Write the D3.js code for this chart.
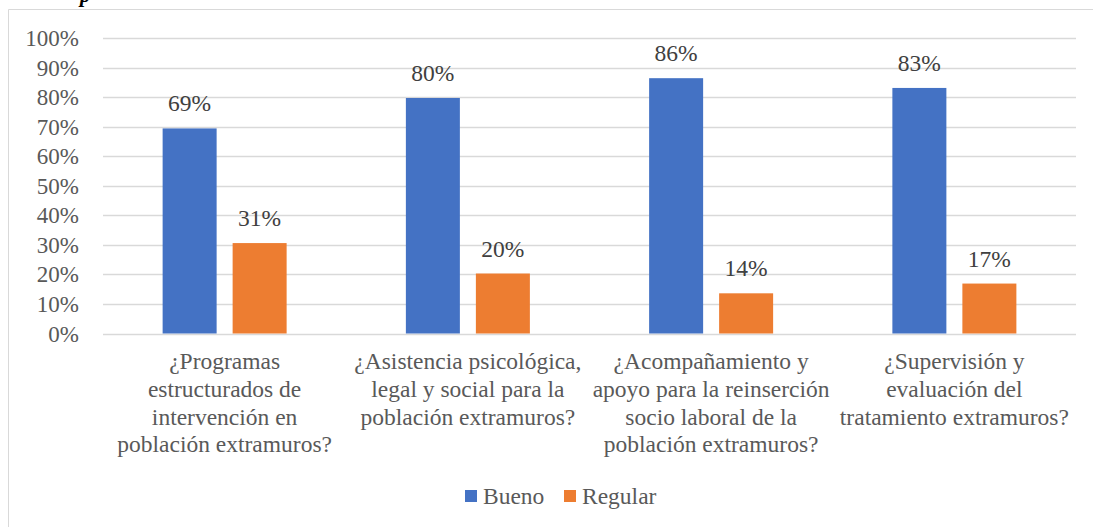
<!DOCTYPE html>
<html><head><meta charset="utf-8">
<script src="https://cdn.jsdelivr.net/npm/d3@7"></script>
<style>body{margin:0;background:#fff;}</style>
</head><body><svg id="c" width="1093" height="527"></svg>
<script>
const categories = [
  ["¿Programas","estructurados de","intervención en","población extramuros?"],
  ["¿Asistencia psicológica,","legal y social para la","población extramuros?"],
  ["¿Acompañamiento y","apoyo para la reinserción","socio laboral de la","población extramuros?"],
  ["¿Supervisión y","evaluación del","tratamiento extramuros?"]
];
const seriesNames = ["Bueno","Regular"];
const bueno = [69.4, 79.7, 86.4, 83.1];
const regular = [30.6, 20.3, 13.6, 16.9];
const yTicks = [0,10,20,30,40,50,60,70,80,90,100];
const colors = ["#4472C4","#ED7D31"];

const FONT = "Liberation Serif";
const FS = 23.5;
const svg = d3.select("#c");
const txt = "#595959";
svg.append("path").attr("d","M8.5,527 V9.5 H1093").attr("fill","none").attr("stroke","#d9d9d9").attr("stroke-width",1);
svg.append("text").attr("x",80).attr("y",2).attr("font-size",21).attr("font-family",FONT).attr("font-style","italic").attr("font-weight","bold").attr("fill","#000").text("p");

const x0 = d3.scaleBand().domain(d3.range(categories.length)).range([103,1076]);
const y = d3.scaleLinear().domain([0,100]).range([333.5,38]);

svg.append("g").selectAll("line").data(yTicks).join("line")
  .attr("x1",103).attr("x2",1076).attr("y1",d=>Math.round(y(d))+0.5).attr("y2",d=>Math.round(y(d))+0.5)
  .attr("stroke","#d9d9d9").attr("stroke-width",1.3);
const yAxis = d3.axisLeft(y).tickValues(yTicks).tickFormat(d=>d+"%").tickSize(0).tickPadding(0);
const ga = svg.append("g").attr("transform","translate(79,0)").call(yAxis);
ga.select(".domain").remove();
ga.attr("font-family",FONT).attr("font-size",23);
ga.selectAll("text").attr("fill",txt).attr("dy","0.33em");

const data = categories.map((c,i)=>[bueno[i],regular[i]]);
const bw = 54;
data.forEach((vals,i)=>{
  const cx = x0(i)+x0.bandwidth()/2;
  vals.forEach((v,j)=>{
    const bx = j===0 ? cx-8-bw : cx+8;
    svg.append("rect").attr("x",bx).attr("y",y(v)).attr("width",bw).attr("height",y(0)-y(v)).attr("fill",colors[j]);
    svg.append("text").attr("x",bx+bw/2).attr("y",y(v)-17).attr("text-anchor","middle")
      .attr("font-size",FS).attr("font-family",FONT).attr("fill","#404040").text(Math.round(v)+"%");
  });
  categories[i].forEach((line,k)=>{
    svg.append("text").attr("text-anchor","middle").attr("font-size",FS).attr("font-family",FONT).attr("fill",txt)
      .attr("x",cx).attr("y",369+k*27.8).text(line);
  });
});

const leg = [{x:465,n:0},{x:564,n:1}];
leg.forEach(l=>{
  svg.append("rect").attr("x",l.x).attr("y",490).attr("width",12).attr("height",12).attr("fill",colors[l.n]);
  svg.append("text").attr("x",l.x+18).attr("y",504).attr("font-size",FS).attr("font-family",FONT).attr("fill",txt).text(seriesNames[l.n]);
});
</script></body></html>
